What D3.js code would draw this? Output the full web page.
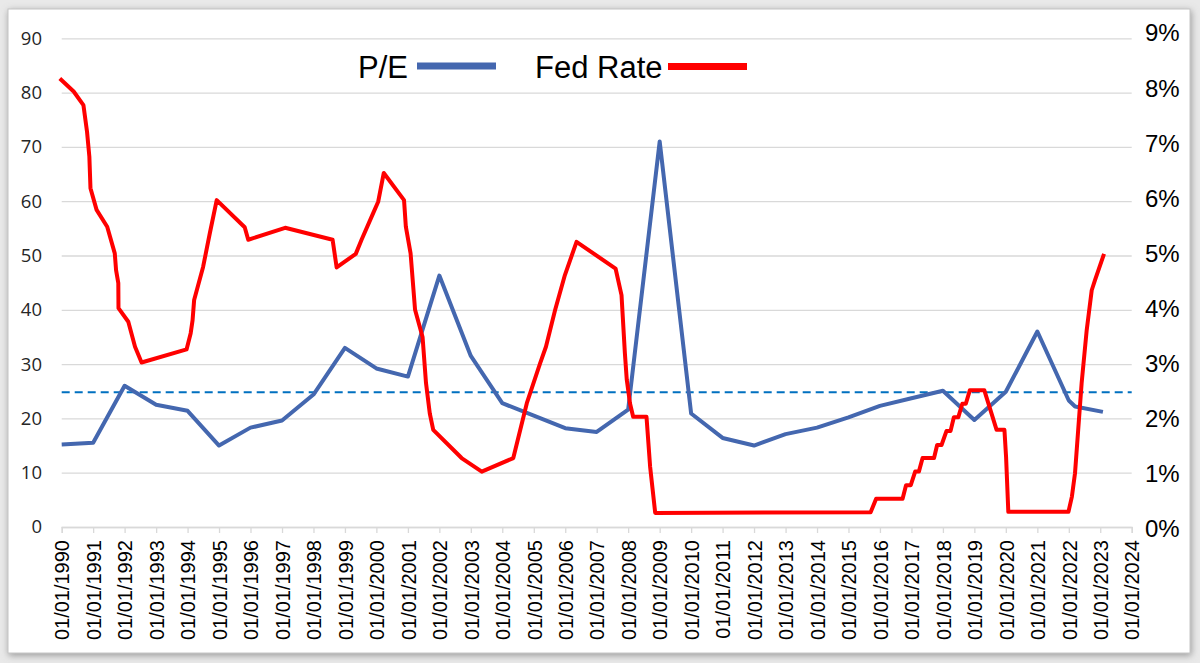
<!DOCTYPE html>
<html>
<head>
<meta charset="utf-8">
<script src="https://cdn.jsdelivr.net/npm/d3@7"></script>
<style>
  body { margin: 0; background: #fff; }
</style>
</head>
<body>
<div id="chart"></div>
<script>
// P/E series (annual readings)
const peDates = ["1990-01-01","1991-01-01","1992-01-01","1993-01-01","1994-01-01","1995-01-01",
  "1996-01-01","1997-01-01","1998-01-01","1999-01-01","2000-01-01","2001-01-01","2002-01-01",
  "2003-01-01","2004-01-01","2005-01-01","2006-01-01","2007-01-01","2008-01-01","2009-01-01",
  "2010-01-01","2011-01-01","2012-01-01","2013-01-01","2014-01-01","2015-01-01","2016-01-01",
  "2017-01-01","2018-01-01","2019-01-01","2020-01-01","2021-01-01","2022-01-01","2022-03-15",
  "2023-02-01"];
const peValues = [15.2,15.5,26.0,22.5,21.4,15.0,18.3,19.6,24.4,33.0,29.2,27.7,46.3,31.5,22.8,20.5,
  18.2,17.5,21.6,71.0,20.9,16.4,15.0,17.1,18.3,20.2,22.3,23.7,25.1,19.7,24.9,36.0,23.3,22.2,21.2];

// Fed funds rate (%)
const fedDates = ["1989-12-10","1990-05-20","1990-09-10","1990-10-22","1990-11-18","1990-12-01",
  "1991-02-10","1991-06-13","1991-09-09","1991-09-24","1991-10-20","1991-10-22","1992-02-13",
  "1992-05-01","1992-07-16","1993-12-20","1994-02-06","1994-02-28","1994-03-18","1994-06-30",
  "1994-09-16","1994-12-05","1995-10-26","1995-12-06","1997-02-06","1998-08-11","1998-09-27",
  "1999-05-07","1999-07-13","1999-11-25","2000-01-22","2000-03-27","2000-11-17","2000-12-08",
  "2001-02-01","2001-03-25","2001-06-20","2001-07-30","2001-09-12","2001-10-22","2002-09-16",
  "2003-05-08","2004-05-08","2004-10-12","2005-03-14","2005-05-22","2005-09-06","2005-12-28",
  "2006-05-12","2007-08-08","2007-10-16","2007-11-24","2007-12-16","2008-01-22","2008-02-28",
  "2008-08-01","2008-09-12","2008-11-10","2015-09-15","2015-11-18","2016-09-20","2016-10-30",
  "2016-12-24","2017-02-13","2017-03-28","2017-05-10","2017-09-20","2017-10-26","2017-12-16",
  "2018-02-12","2018-03-31","2018-05-08","2018-06-28","2018-08-14","2018-09-24","2018-11-10",
  "2019-04-26","2019-09-16","2019-12-16","2020-01-04","2020-01-30","2021-12-28","2022-02-06",
  "2022-03-14","2022-04-20","2022-05-30","2022-07-28","2022-09-24","2022-11-02","2023-02-14"];
const fedValues = [8.26,8.02,7.77,7.28,6.82,6.24,5.84,5.53,5.04,4.73,4.49,4.03,3.78,3.32,3.03,3.27,
  3.57,3.81,4.18,4.79,5.41,6.02,5.52,5.29,5.51,5.29,4.78,5.03,5.29,5.78,5.99,6.52,6.02,5.53,5.04,
  4.00,3.50,2.65,2.09,1.79,1.27,1.02,1.27,2.28,3.01,3.32,4.00,4.64,5.25,4.76,4.27,3.20,2.71,2.28,
  2.03,2.03,1.11,0.26,0.27,0.52,0.52,0.77,0.77,1.02,1.02,1.27,1.27,1.51,1.51,1.77,1.77,2.02,2.02,
  2.27,2.27,2.52,2.52,1.79,1.79,1.29,0.28,0.28,0.56,0.99,1.79,2.65,3.63,4.36,4.55,5.03];

const peAverage = 24.8;
const leftTicks = [0,10,20,30,40,50,60,70,80,90];
const rightTicks = [0,1,2,3,4,5,6,7,8,9];
const xStart = "1990-01-01", xEnd = "2024-01-01";

const width = 1200, height = 663;
const plot = { left: 61.7, right: 1131.7, top: 38.3, bottom: 527 };

const parse = d3.timeParse("%Y-%m-%d");
const peData = peDates.map((d, i) => ({ date: parse(d), value: peValues[i] }));
const fedData = fedDates.map((d, i) => ({ date: parse(d), value: fedValues[i] }));

const svg = d3.select("#chart").append("svg")
  .attr("width", width)
  .attr("height", height)
  .style("font-family", "'Liberation Sans', Arial, sans-serif");

// frame with soft shadow
const defs = svg.append("defs");
const f = defs.append("filter").attr("id", "shadow")
  .attr("x", "-5%").attr("y", "-5%").attr("width", "110%").attr("height", "110%");
f.append("feDropShadow").attr("dx", 1).attr("dy", 2).attr("stdDeviation", 3.5)
  .attr("flood-color", "#777").attr("flood-opacity", 0.7);

svg.append("rect").attr("width", width).attr("height", height).attr("fill", "#e9e9e9");
svg.append("rect")
  .attr("x", 8).attr("y", 9).attr("width", 1182).attr("height", 644)
  .attr("fill", "#fff").attr("stroke", "#c4c4c4").attr("filter", "url(#shadow)");

const x = d3.scaleTime()
  .domain([parse(xStart), parse(xEnd)])
  .range([plot.left, plot.right]);
const yLeft = d3.scaleLinear().domain([0, 90]).range([plot.bottom, plot.top]);
const yRight = d3.scaleLinear().domain([0, 9]).range([plot.bottom, plot.top]);
// the % labels in the original sit on a slightly wider spacing than the grid
const yRightLabels = d3.scaleLinear().domain([0, 9]).range([529.3, 33.3]);

// gridlines
svg.append("g")
  .attr("transform", "translate(" + plot.left + ",0)")
  .call(d3.axisLeft(yLeft).tickValues(leftTicks).tickSize(-(plot.right - plot.left)).tickFormat(""))
  .call(g => g.select(".domain").remove())
  .selectAll("line").attr("stroke", "#d9d9d9").attr("stroke-width", 1.3);

// left axis labels
svg.append("g")
  .attr("transform", "translate(42,0)")
  .call(d3.axisLeft(yLeft).tickValues(leftTicks).tickSize(0).tickPadding(0))
  .call(g => g.select(".domain").remove())
  .selectAll("text")
    .attr("fill", "#262626")
    .style("font-family", "'Open Sans', sans-serif")
    .style("font-size", "18.5px");

// right axis labels
svg.append("g")
  .attr("transform", "translate(1145,0)")
  .call(d3.axisRight(yRightLabels).tickValues(rightTicks).tickSize(0).tickPadding(0)
    .tickFormat(d => d + "%"))
  .call(g => g.select(".domain").remove())
  .selectAll("text")
    .attr("fill", "#000")
    .style("font-size", "24px");

// x axis
const xAxis = svg.append("g")
  .attr("transform", "translate(0," + plot.bottom + ")")
  .call(d3.axisBottom(x)
    .tickValues(d3.timeYear.range(parse(xStart), d3.timeDay.offset(parse(xEnd), 1)))
    .tickSize(6)
    .tickFormat(d3.timeFormat("%d/%m/%Y")));
xAxis.select(".domain").attr("stroke", "#d9d9d9").attr("stroke-width", 1.3);
xAxis.selectAll(".tick line").attr("stroke", "#d9d9d9").attr("stroke-width", 1.3);
xAxis.selectAll("text")
  .attr("fill", "#000")
  .style("font-size", "20px")
  .attr("text-anchor", "end")
  .attr("transform", "rotate(-90)")
  .attr("x", -13)
  .attr("y", 0)
  .attr("dy", "0.36em");

// average P/E dashed line
svg.append("line")
  .attr("x1", plot.left).attr("x2", plot.right)
  .attr("y1", yLeft(peAverage)).attr("y2", yLeft(peAverage))
  .attr("stroke", "#0070c0")
  .attr("stroke-width", 2)
  .attr("stroke-dasharray", "8,5");

// P/E line
svg.append("path")
  .datum(peData)
  .attr("fill", "none")
  .attr("stroke", "#4467af")
  .attr("stroke-width", 4)
  .attr("stroke-linejoin", "round")
  .attr("d", d3.line().x(d => x(d.date)).y(d => yLeft(d.value)));

// Fed rate line
svg.append("path")
  .datum(fedData)
  .attr("fill", "none")
  .attr("stroke", "#ff0000")
  .attr("stroke-width", 4)
  .attr("stroke-linejoin", "round")
  .attr("d", d3.line().x(d => x(d.date)).y(d => yRight(d.value)));

// legend
const legend = svg.append("g").style("font-size", "31px");
legend.append("text").attr("x", 358).attr("y", 78).text("P/E");
legend.append("line")
  .attr("x1", 417).attr("x2", 496).attr("y1", 66).attr("y2", 66)
  .attr("stroke", "#4467af").attr("stroke-width", 7);
legend.append("text").attr("x", 535).attr("y", 78).text("Fed Rate");
legend.append("line")
  .attr("x1", 668).attr("x2", 747).attr("y1", 66.5).attr("y2", 66.5)
  .attr("stroke", "#ff0000").attr("stroke-width", 7);
</script>
</body>
</html>
